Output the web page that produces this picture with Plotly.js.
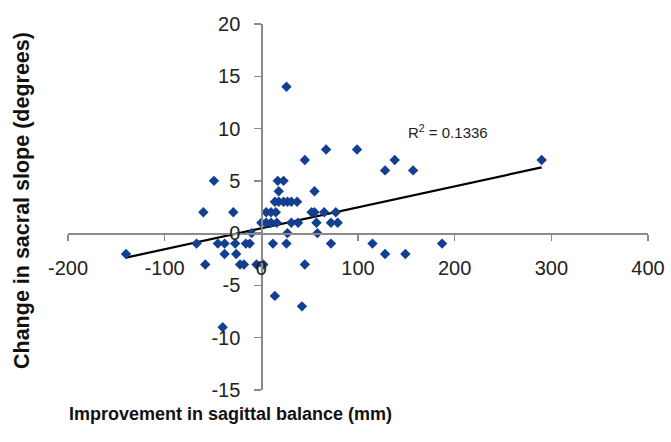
<!DOCTYPE html>
<html>
<head>
<meta charset="utf-8">
<script src="https://cdn.plot.ly/plotly-3.0.1.min.js"></script>
<style>
html,body{margin:0;padding:0;background:#fff;}
#chart{width:671px;height:442px;}
</style>
</head>
<body>
<div id="chart"></div>
<script>
// Improvement in sagittal balance (mm)
var balanceX = [-140, -67, -60, -58, -49, -45, -40, -38, -38, -29, -27, -26, -22, -18, -16, -12, -10, -5, 2,
  0, 5, 10, 16, 31, 38,
  5, 10, 15,
  14, 18, 23, 27, 31, 37,
  18,
  17, 23,
  26,
  12, 26,
  27,
  14,
  42,
  45,
  45,
  67,
  99,
  128,
  138,
  157,
  290,
  55,
  52, 55, 65, 77,
  57, 72, 79,
  58,
  72,
  115,
  128,
  149,
  187];
// Change in sacral slope (degrees)
var slopeY = [-2, -1, 2, -3, 5, -1, -9, -1, -2, 2, -1, -2, -3, -3, -1, -1, 0, -3, -3,
  1, 1, 1, 1, 1, 1,
  2, 2, 2,
  3, 3, 3, 3, 3, 3,
  4,
  5, 5,
  14,
  -1, -1,
  0,
  -6,
  -7,
  -3,
  7,
  8,
  8,
  6,
  7,
  6,
  7,
  4,
  2, 2, 2, 2,
  1, 1, 1,
  0,
  -1,
  -1,
  -2,
  -2,
  -1];
var xTicks = [-200, -100, 0, 100, 200, 300, 400];
var yTicks = [-15, -10, -5, 0, 5, 10, 15, 20];
var rSquaredLabel = 'R<sup>2</sup> = 0.1336';

// least-squares trend line computed from the data
var n = balanceX.length, sx = 0, sy = 0, sxx = 0, sxy = 0;
for (var i = 0; i < n; i++) { sx += balanceX[i]; sy += slopeY[i]; sxx += balanceX[i]*balanceX[i]; sxy += balanceX[i]*slopeY[i]; }
var slope = (n*sxy - sx*sy) / (n*sxx - sx*sx);
var intercept = (sy - slope*sx) / n;
var xmin = Math.min.apply(null, balanceX), xmax = Math.max.apply(null, balanceX);
var trendX = [xmin, xmax];
var trendY = [intercept + slope*xmin, intercept + slope*xmax];

var font = 'Liberation Sans, Arial, sans-serif';
var traces = [
  {x: trendX, y: trendY, mode: 'lines', line: {color: '#000000', width: 2.2}, hoverinfo: 'skip', showlegend: false},
  {x: balanceX, y: slopeY, mode: 'markers', type: 'scatter',
   marker: {symbol: 'diamond', size: 8, color: '#123f8f', line: {width: 0}}, showlegend: false}
];

var layout = {
  width: 671, height: 442,
  margin: {l: 68, r: 23, t: 24, b: 52},
  paper_bgcolor: '#ffffff', plot_bgcolor: '#ffffff',
  font: {family: font, size: 20, color: '#222222'},
  showlegend: false,
  xaxis: {
    range: [-200, 400], tickvals: xTicks, ticktext: xTicks.map(String),
    anchor: 'free', position: 15/35,
    showline: true, linecolor: '#8a8a8a', linewidth: 1.5,
    ticks: 'outside', ticklen: 6, tickcolor: '#8a8a8a', tickwidth: 1.5,
    ticklabelstandoff: 10,
    showgrid: false, zeroline: false,
    tickfont: {family: font, size: 20, color: '#222222'}
  },
  yaxis: {
    range: [-15, 20], tickvals: yTicks, ticktext: yTicks.map(String),
    anchor: 'free', position: 200/600,
    showline: true, linecolor: '#8a8a8a', linewidth: 1.5,
    ticks: 'outside', ticklen: 7, tickcolor: '#8a8a8a', tickwidth: 1.5,
    ticklabelstandoff: 10,
    showgrid: false, zeroline: false,
    tickfont: {family: font, size: 20, color: '#222222'}
  },
  annotations: [
    {text: '<b>Improvement in sagittal balance (mm)</b>', xref: 'paper', yref: 'paper',
     x: (230-68)/580, y: (390-414)/366, xanchor: 'center', yanchor: 'middle', showarrow: false,
     font: {family: font, size: 18, color: '#111111'}},
    {text: '<b>Change in sacral slope (degrees)</b>', xref: 'paper', yref: 'paper',
     x: (22-68)/580, y: (390-201)/366, xanchor: 'center', yanchor: 'middle', textangle: -90, showarrow: false,
     font: {family: font, size: 21.5, color: '#111111'}},
    {text: rSquaredLabel, xref: 'x', yref: 'y', x: 150, y: 9.7, xanchor: 'left', yanchor: 'middle',
     showarrow: false, font: {family: font, size: 15, color: '#222222'}}
  ]
};

Plotly.newPlot('chart', traces, layout, {displayModeBar: false, staticPlot: true});
</script>
</body>
</html>
